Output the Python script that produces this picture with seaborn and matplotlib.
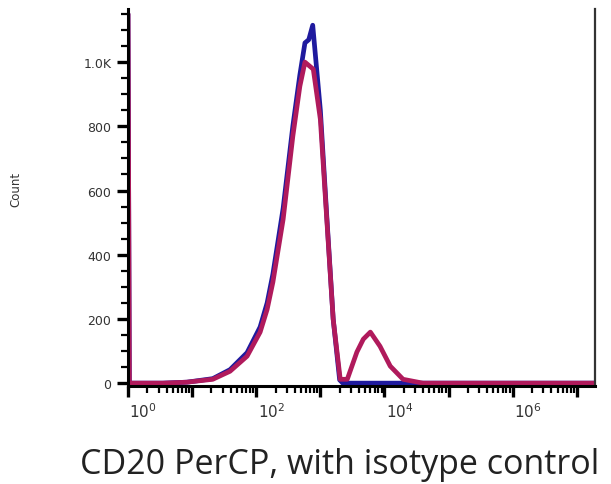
import numpy as np
import pandas as pd
import matplotlib
matplotlib.use("Agg")
import matplotlib.pyplot as plt
import matplotlib.ticker as mticker
import matplotlib.transforms as mtransforms
import seaborn as sns

# isotype control (blue) histogram
iso_x = [1.0, 1.05, 3.5, 8.3, 21, 39, 72, 115, 148, 182, 263, 372, 479, 575, 660, 760, 1000, 1259, 1585, 2000, 2240, 40000, 19000000]
iso_count = [1150, 0, 0, 3, 14, 42, 95, 175, 250, 340, 545, 800, 960, 1060, 1070, 1115, 850, 520, 200, 10, 0, 0, 0]

# CD20 PerCP (magenta) histogram
cd20_x = [1.0, 1.05, 3.5, 8.3, 21, 39, 72, 115, 148, 182, 263, 372, 479, 575, 776, 1000, 1259, 1585, 2042, 2630, 3715, 4677, 6026, 8511, 12300, 19500, 39800, 19000000]
cd20_count = [1150, 0, 0, 3, 12, 37, 84, 159, 230, 315, 511, 769, 925, 1000, 978, 822, 511, 199, 12, 12, 97, 137, 159, 115, 53, 12, 0, 0]

y_ticks = [0, 200, 400, 600, 800, 1000]
y_labels = ["0", "200", "400", "600", "800", "1.0K"]
x_labels = {1: r"$10^0$", 100: r"$10^2$", 10000: r"$10^4$", 1000000: r"$10^6$"}

df = pd.concat([
    pd.DataFrame({"x": iso_x, "count": iso_count, "sample": "isotype"}),
    pd.DataFrame({"x": cd20_x, "count": cd20_count, "sample": "CD20"}),
], ignore_index=True)

sns.set_style("white")
fig = plt.figure(figsize=(6.11, 4.85), dpi=100)
ax = fig.add_axes([0.2095, 0.202, 0.765, 0.777])

sns.lineplot(data=df, x="x", y="count", hue="sample", sort=False,
             palette={"isotype": "#1f1a9e", "CD20": "#b01a5c"},
             linewidth=3.4, legend=False, ax=ax, estimator=None)

ax.set_xscale("log")
ax.set_xlim(1.0, 10 ** 7.29)
ax.set_ylim(-9, 1165)

ax.set_yticks(y_ticks)
ax.set_yticklabels(y_labels)
ax.yaxis.set_minor_locator(mticker.MultipleLocator(50))

ax.xaxis.set_major_locator(mticker.FixedLocator([10.0 ** k for k in range(8)]))
ax.xaxis.set_major_formatter(mticker.FuncFormatter(lambda v, p: x_labels.get(int(round(v)), "")))
ax.xaxis.set_minor_locator(mticker.LogLocator(base=10, subs=np.arange(2, 10), numticks=20))
ax.xaxis.set_minor_formatter(mticker.NullFormatter())

# seaborn's white style hides ticks, turn them back on
ax.tick_params(axis="both", which="both", bottom=True, left=True, top=False, right=False)
ax.tick_params(axis="both", which="major", direction="out", length=8, width=2.4,
               color="black", labelsize=9, labelcolor="#333333", pad=4)
ax.tick_params(axis="both", which="minor", direction="out", length=5, width=1.6, color="black")
ax.tick_params(axis="x", which="major", labelsize=11, pad=3)

# FlowJo places the decade labels a bit to the right of the tick
offset = mtransforms.ScaledTranslation(15 / 100, 0, fig.dpi_scale_trans)
for lab in ax.get_xticklabels():
    lab.set_transform(lab.get_transform() + offset)

for side in ["left", "bottom"]:
    ax.spines[side].set_linewidth(2.2)
    ax.spines[side].set_color("black")
ax.spines["right"].set_linewidth(1.6)
ax.spines["right"].set_color("#333333")
ax.spines["top"].set_visible(False)

ax.set_xlabel("")
ax.set_ylabel("")
fig.text(0.026, 0.61, "Count", rotation=90, ha="center", va="center", fontsize=8.5, color="#333333")
fig.text(0.556, 0.042, "CD20 PerCP, with isotype control", ha="center", va="center",
         fontsize=24.5, family=["Open Sans", "DejaVu Sans"], color="#222222")

fig.savefig("out.png", dpi=100)
